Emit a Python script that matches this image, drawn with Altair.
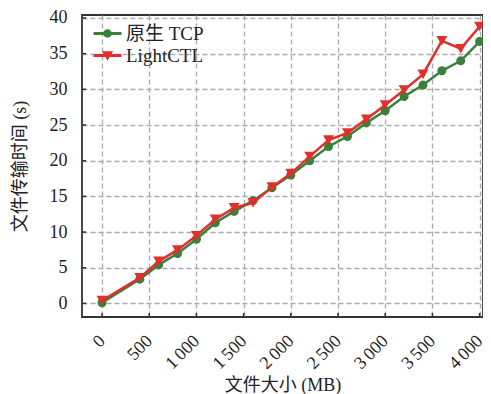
import altair as alt
import pandas as pd

file_sizes = [0, 400, 600, 800, 1000, 1200, 1400, 1600, 1800, 2000,
              2200, 2400, 2600, 2800, 3000, 3200, 3400, 3600, 3800, 4000]
tcp_times = [0.1, 3.4, 5.4, 7.0, 9.0, 11.3, 12.9, 14.4, 16.2, 18.0,
             20.0, 22.0, 23.4, 25.3, 27.0, 29.0, 30.6, 32.6, 34.0, 36.7]
lightctl_times = [0.4, 3.6, 5.9, 7.5, 9.5, 11.8, 13.4, 14.1, 16.3, 18.2,
                  20.6, 22.9, 23.9, 25.8, 27.8, 29.9, 32.1, 36.8, 35.7, 38.8]
series_names = ["原生 TCP", "LightCTL"]
series_colors = ["#3b7f3d", "#e0302c"]
series_shapes = ["circle", "triangle-down"]
x_ticks = [0, 500, 1000, 1500, 2000, 2500, 3000, 3500, 4000]
y_ticks = [0, 5, 10, 15, 20, 25, 30, 35, 40]

# legend glyphs: short line with marker on top
legend_paths = [
    "M-2.5,-0.27H2.5V0.27H-2.5Z M0.75,0A0.75,0.75 0 1,1 -0.75,0A0.75,0.75 0 1,1 0.75,0Z",
    "M-2.5,-0.27H2.5V0.27H-2.5Z M-1,-0.75L1,-0.75L0,0.95Z",
]

rows = []
for s, t in zip(file_sizes, tcp_times):
    rows.append({"size": s, "time": t, "series": series_names[0]})
for s, t in zip(file_sizes, lightctl_times):
    rows.append({"size": s, "time": t, "series": series_names[1]})
df = pd.DataFrame(rows)

FONT = "Liberation Serif, Noto Sans CJK SC"
W, H = 401, 302
x_scale = alt.Scale(domain=[-212, 4036], nice=False, zero=False)
y_scale = alt.Scale(domain=[-1.9, 40.42], nice=False, zero=False)

x_axis = alt.Axis(
    values=x_ticks,
    title="文件大小 (MB)",
    labelExpr="replace(format(datum.value, ','), ',', '\u2009')",
    labelAngle=315,
    labelAlign="right",
    labelBaseline="middle",
    labelPadding=21,
    titleY=73,
    titleBaseline="alphabetic",
)
y_axis = alt.Axis(
    values=y_ticks,
    title="文件传输时间 (s)",
    labelPadding=15,
    titleAngle=270,
    titleX=-62,
    titleY=151,
    titleBaseline="middle",
    titleAlign="center",
)
x_enc = alt.X("size:Q", scale=x_scale, axis=x_axis)
y_enc = alt.Y("time:Q", scale=y_scale, axis=y_axis)

base = alt.Chart(df).encode(x=x_enc, y=y_enc)

layers = []
for name, col, shp, sz in zip(series_names, series_colors, series_shapes, [81, 121]):
    sub = base.transform_filter(alt.datum.series == name)
    layers.append(sub.mark_line(strokeWidth=2.5, color=col))
    layers.append(sub.mark_point(filled=True, shape=shp, size=sz, color=col, opacity=1))

legend_cfg = dict(
    title=None,
    orient="none",
    legendX=16,
    legendY=9,
    padding=0,
    symbolSize=125,
    symbolStrokeWidth=0,
    labelOffset=9,
    rowPadding=2,
    labelFont=FONT,
    labelFontSize=19,
    labelColor="#222",
)
legend_layer = base.transform_filter("false").mark_point(filled=True, opacity=1).encode(
    color=alt.Color("series:N", scale=alt.Scale(domain=series_names, range=series_colors),
                    legend=alt.Legend(**legend_cfg)),
    shape=alt.Shape("series:N", scale=alt.Scale(domain=series_names, range=legend_paths),
                    legend=alt.Legend(**legend_cfg)),
)
layers.append(legend_layer)

# inward tick marks on the left and bottom frame
ytick_df = pd.DataFrame({"time": y_ticks})
xtick_df = pd.DataFrame({"size": x_ticks})
ytick_layer = alt.Chart(ytick_df).mark_rule(color="#333", strokeWidth=1.5).encode(
    y=y_enc,
    x=alt.value(0),
    x2=alt.value(4),
)
xtick_layer = alt.Chart(xtick_df).mark_rule(color="#333", strokeWidth=1.5).encode(
    x=x_enc,
    y=alt.value(H),
    y2=alt.value(H - 4),
)
layers.extend([ytick_layer, xtick_layer])

chart = alt.layer(*layers).properties(
    width=W,
    height=H,
    padding={"left": 74, "top": 7, "right": 0, "bottom": 77},
    autosize=alt.AutoSizeParams(type="none"),
    background="white",
).configure_view(
    stroke="#333", strokeWidth=1.8
).configure_axis(
    domain=False,
    ticks=False,
    grid=True,
    gridDash=[5, 3],
    gridColor="#aaaaaa",
    gridWidth=1.3,
    labelFont=FONT,
    labelFontSize=18,
    labelColor="#222",
    titleFont=FONT,
    titleFontSize=18,
    titleFontWeight="normal",
    titleColor="#222",
)

chart.save("out.html", embed_options={"renderer": "svg", "actions": False})
